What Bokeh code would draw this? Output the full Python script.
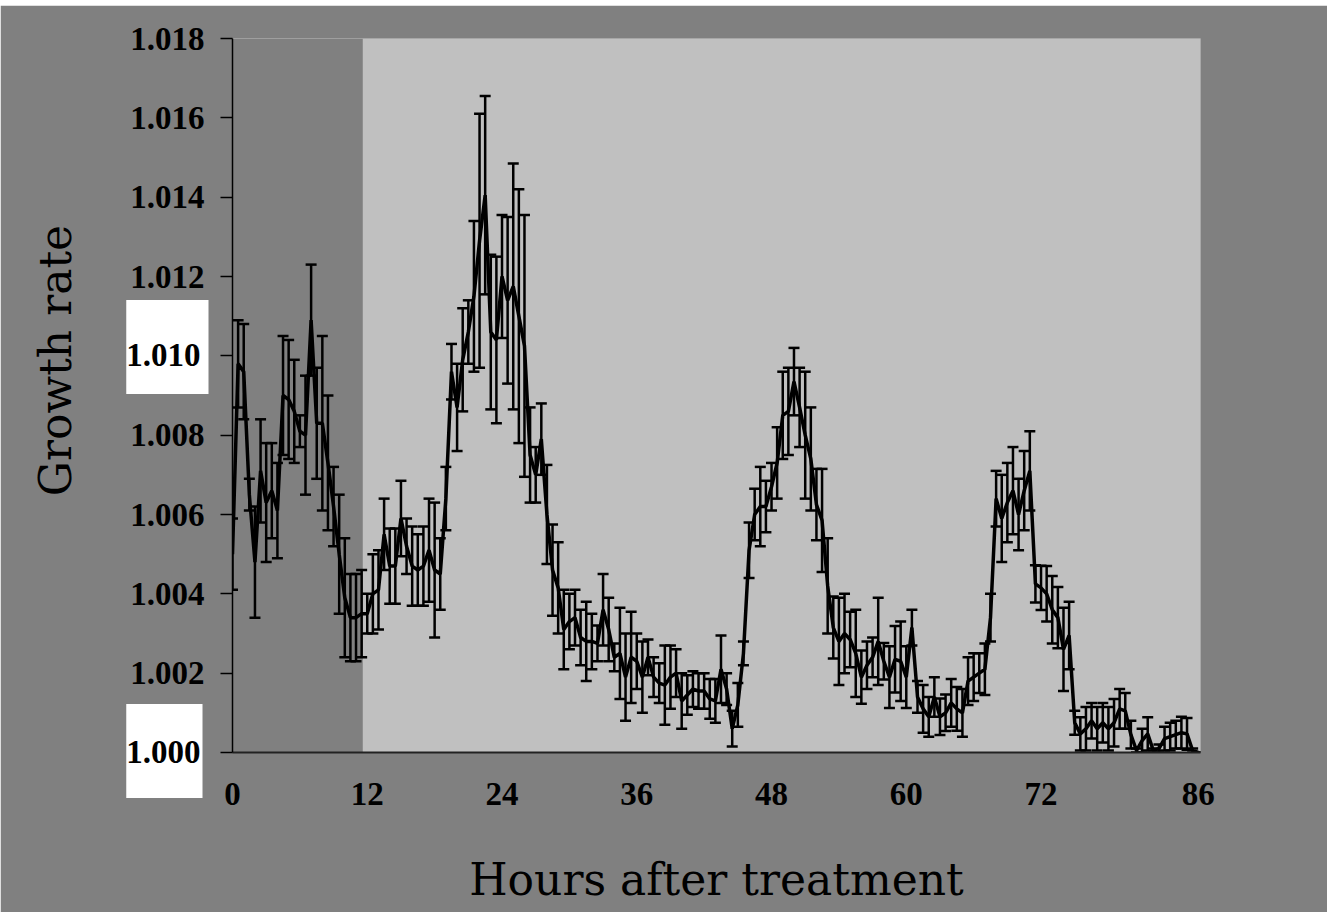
import math
from bokeh.plotting import figure
from bokeh.models import (ColumnDataSource, Whisker, TeeHead, BoxAnnotation, Label,
                          FixedTicker, PrintfTickFormatter, Range1d)
from bokeh.embed import file_html
from bokeh.resources import INLINE

# ---- data (growth rate, mean and error, sampled every 0.5 h) ----
rate_00_12 = [1.0050, 1.0098, 1.0096, 1.0065, 1.0048, 1.0071, 1.0063, 1.0066, 1.0061,
              1.0090, 1.0089, 1.0086, 1.0081, 1.0080, 1.0109, 1.0083, 1.0083, 1.0073,
              1.0062, 1.0050, 1.0039, 1.0034, 1.0034, 1.0035, 1.0035]
err_00_12 = [0.0009, 0.0011, 0.0012, 0.0004, 0.0014, 0.0013, 0.0015, 0.0012, 0.0012,
             0.0015, 0.0015, 0.0013, 0.0004, 0.0015, 0.0014, 0.0014, 0.0022, 0.0017,
             0.0010, 0.0015, 0.0015, 0.0011, 0.0011, 0.0011, 0.0005]

rate_12_27 = [1.0040, 1.0041, 1.0055, 1.0047, 1.0047, 1.0059, 1.0052, 1.0047, 1.0046,
              1.0047, 1.0051, 1.0046, 1.0045, 1.0064, 1.0096, 1.0087, 1.0099, 1.0106,
              1.0115, 1.0129, 1.01405, 1.0106, 1.0104, 1.0120, 1.0114, 1.01175, 1.0110,
              1.01025, 1.0075, 1.0070]
err_12_27 = [0.0010, 0.0010, 0.0009, 0.00095, 0.00095, 0.00095, 0.0007, 0.0010, 0.0009,
             0.0010, 0.0013, 0.0017, 0.0009, 0.0008, 0.0007, 0.0011, 0.0013, 0.0008,
             0.0019, 0.0032, 0.0025, 0.00195, 0.0021, 0.00155, 0.0021, 0.0031, 0.0032,
             0.0033, 0.0012, 0.0007]

rate_27_45 = [1.0079, 1.0060, 1.0046, 1.00415, 1.0031, 1.0033, 1.0034, 1.0029, 1.0028,
              1.0028, 1.00275, 1.0036, 1.0031, 1.0024, 1.0025, 1.0019, 1.0024, 1.0023,
              1.0019, 1.0024, 1.0019, 1.00175, 1.0017, 1.0019, 1.0020, 1.0013, 1.00145,
              1.0016, 1.00155, 1.00155, 1.00135, 1.0013, 1.0021, 1.0016, 1.0006, 1.0012]
err_27_45 = [0.0009, 0.00125, 0.00115, 0.00115, 0.0010, 0.0007, 0.0007, 0.0007, 0.0010,
             0.0007, 0.00045, 0.0009, 0.0008, 0.00035, 0.00115, 0.0011, 0.00115, 0.0007,
             0.0009, 0.00045, 0.0005, 0.0005, 0.0010, 0.0008, 0.0006, 0.0007, 0.0005,
             0.00045, 0.00045, 0.00045, 0.0005, 0.00055, 0.00085, 0.0004, 0.00045, 0.00055]

rate_45_64 = [1.0025, 1.0051, 1.0060, 1.0062, 1.0062, 1.0067, 1.0073, 1.0085, 1.0086,
              1.00935, 1.0087, 1.0080, 1.0074, 1.00625, 1.00585, 1.0042, 1.00315, 1.0028,
              1.0030, 1.00285, 1.0025, 1.0019, 1.0022, 1.0024, 1.0028, 1.0023, 1.0019,
              1.00235, 1.0023, 1.0019, 1.00315, 1.0014, 1.0011, 1.0009, 1.0014, 1.0009,
              1.0010, 1.00125]
err_45_64 = [0.0003, 0.0007, 0.00065, 0.0010, 0.00065, 0.0006, 0.0009, 0.0011, 0.0011,
             0.00085, 0.0010, 0.0016, 0.0013, 0.0009, 0.0013, 0.0012, 0.00078, 0.0011,
             0.0010, 0.0007, 0.0011, 0.00067, 0.0006, 0.0005, 0.0011, 0.00046, 0.00078,
             0.00084, 0.0010, 0.00078, 0.00045, 0.0004, 0.0006, 0.0005, 0.0005, 0.00046,
             0.00046, 0.0006]

rate_64_86 = [1.0011, 1.0010, 1.0018, 1.0019, 1.0020, 1.0021, 1.0034, 1.0064, 1.0059,
              1.0063, 1.0066, 1.0060, 1.0066, 1.0071, 1.00425, 1.00415, 1.0040, 1.0036,
              1.0034, 1.0026, 1.00295, 1.00075, 1.00047, 1.0006, 1.0008, 1.0006, 1.00075,
              1.0006, 1.00075, 1.0011, 1.00105, 1.00045, 1.00005, 1.0003, 1.00047, 1.00005,
              1.0001, 1.00035, 1.0004, 1.00045, 1.0005, 1.00047, 1.00005, 1.0000]
err_64_86 = [0.00055, 0.0006, 0.0006, 0.0006, 0.0005, 0.00065, 0.0006, 0.0007, 0.0011,
             0.0010, 0.0011, 0.0009, 0.0010, 0.0010, 0.00047, 0.00056, 0.0007, 0.00085,
             0.00077, 0.00105, 0.00085, 0.0003, 0.00042, 0.00055, 0.00045, 0.00055, 0.0005,
             0.00055, 0.0006, 0.0005, 0.00045, 0.00035, 0.00005, 0.0003, 0.00042, 0.00005,
             0.0001, 0.0003, 0.00035, 0.00035, 0.0004, 0.0004, 0.00005, 0.0]

sample_step_h = 0.5
x_tick_values = [0, 12, 24, 36, 48, 60, 72, 86]
y_tick_values = [1.000, 1.002, 1.004, 1.006, 1.008, 1.010, 1.012, 1.014, 1.016, 1.018]
boxed_ticks = [1.010, 1.000]          # tick labels drawn on a white patch
treatment_start_h = 11.6

rate = rate_00_12 + rate_12_27 + rate_27_45 + rate_45_64 + rate_64_86
err = err_00_12 + err_12_27 + err_27_45 + err_45_64 + err_64_86
hours = [i * sample_step_h for i in range(len(rate))]

src = ColumnDataSource(dict(
    hours=hours, rate=rate,
    upper=[r + e for r, e in zip(rate, err)],
    lower=[r - e for r, e in zip(rate, err)],
))

GRAY = "#808080"
X_MAX = 86.2
Y_MIN, Y_MAX = 1.0, 1.018
FRAME_W, FRAME_H = 968, 714
p = figure(width=1327, height=907,
           x_range=Range1d(0, X_MAX), y_range=Range1d(Y_MIN, Y_MAX),
           output_backend="svg", toolbar_location=None,
           min_border_left=228, min_border_right=127,
           min_border_top=33, min_border_bottom=160)
p.margin = (5, 10, 0, 0)
p.background_fill_color = GRAY
p.border_fill_color = GRAY
p.outline_line_color = None
p.xgrid.visible = False
p.ygrid.visible = False

# light region after treatment
p.add_layout(BoxAnnotation(left=treatment_start_h, fill_color="#c0c0c0", fill_alpha=1,
                           line_color=None, level="underlay"))

wh = Whisker(base="hours", upper="upper", lower="lower", source=src,
             line_color="black", line_width=2.5,
             upper_head=TeeHead(size=11, line_color="black", line_width=2.5),
             lower_head=TeeHead(size=11, line_color="black", line_width=2.5),
             level="underlay")
p.add_layout(wh)

p.line("hours", "rate", source=src, line_color="black", line_width=3.5)

# axes
p.yaxis.ticker = FixedTicker(ticks=y_tick_values)
p.yaxis.formatter = PrintfTickFormatter(format="%.3f")
p.yaxis.major_tick_out = 12
p.yaxis.major_tick_in = 0
p.yaxis.minor_tick_out = 0
p.yaxis.minor_tick_in = 0
p.yaxis.major_label_standoff = 16
p.yaxis.axis_line_color = "black"
p.yaxis.axis_line_width = 1.5
p.yaxis.major_tick_line_color = "black"
p.yaxis.major_tick_line_width = 1.5
p.yaxis.major_label_overrides = {t: "" for t in boxed_ticks}

p.xaxis.ticker = FixedTicker(ticks=x_tick_values)
p.xaxis.major_tick_out = 0
p.xaxis.major_tick_in = 0
p.xaxis.minor_tick_out = 0
p.xaxis.minor_tick_in = 0
p.xaxis.major_label_standoff = 30
p.xaxis.axis_line_color = "#222222"
p.xaxis.axis_line_width = 2

for ax in (p.xaxis, p.yaxis):
    ax.major_label_text_font = "Liberation Serif"
    ax.major_label_text_font_style = "bold"
    ax.major_label_text_font_size = "33px"
    ax.major_label_text_color = "black"
    ax.axis_label_text_font = "DejaVu Serif"
    ax.axis_label_text_font_style = "normal"
    ax.axis_label_text_font_size = "44px"
    ax.axis_label_text_color = "black"

p.xaxis.axis_label = "Hours after treatment"
p.xaxis.axis_label_standoff = 46

# pixel offsets (relative to the frame's left / bottom edge) -> data coords
def px_to_h(dx):
    return dx * X_MAX / FRAME_W
def py_to_rate(dy):
    return Y_MIN + dy * (Y_MAX - Y_MIN) / FRAME_H

# the two tick labels sitting on white patches; they live in side panels so
# that they are not clipped to the plot frame
lbl_1010 = Label(x=px_to_h(-24), y=py_to_rate(405.5), text="%.3f" % boxed_ticks[0],
                 text_font="Liberation Serif", text_font_style="bold",
                 text_font_size="33px", text_color="black",
                 text_align="right", text_baseline="middle",
                 background_fill_color="white", background_fill_alpha=1,
                 padding=dict(left=0, right=8, top=44, bottom=28))
lbl_1000 = Label(x=px_to_h(-30), y=py_to_rate(1.5), text="%.3f" % boxed_ticks[1],
                 text_font="Liberation Serif", text_font_style="bold",
                 text_font_size="33px", text_color="black",
                 text_align="right", text_baseline="middle",
                 background_fill_color="white", background_fill_alpha=1,
                 padding=dict(left=0, right=2, top=37, bottom=35))

# y-axis title (a little above the frame centre, as in the original)
lbl_title = Label(x=px_to_h(-177), y=py_to_rate(392), text="Growth rate",
                  text_font="DejaVu Serif", text_font_size="44px", text_color="black",
                  text_align="center", text_baseline="middle", angle=math.pi / 2)

p.add_layout(lbl_title, "left")
p.add_layout(lbl_1000, "left")
p.add_layout(lbl_1010, "right")

open("out.html", "w").write(file_html(p, INLINE))
